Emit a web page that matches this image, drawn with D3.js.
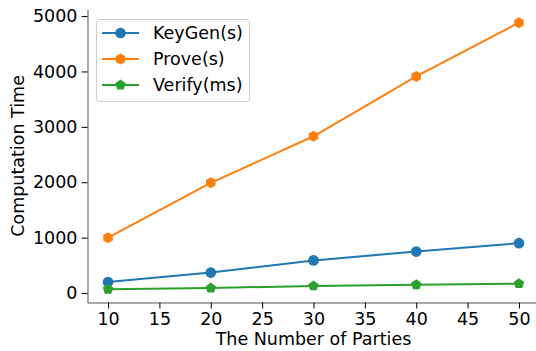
<!DOCTYPE html>
<html><head><meta charset="utf-8">
<script src="https://cdn.jsdelivr.net/npm/d3@7"></script>
<style>body{margin:0;background:#fff}svg{display:block}text{font-family:"DejaVu Sans",sans-serif;fill:#000}</style>
</head><body>
<svg id="c" width="536" height="351"></svg>
<script>
const parties = [10, 20, 30, 40, 50];
const keygen = [200, 370, 590, 750, 900];
const prove = [1000, 1990, 2830, 3910, 4880];
const verify = [70, 90, 130, 150, 170];
const xTicks = [10, 15, 20, 25, 30, 35, 40, 45, 50];
const yTicks = [0, 1000, 2000, 3000, 4000, 5000];
const seriesNames = ["KeyGen(s)", "Prove(s)", "Verify(ms)"];
const colors = ["#1f77b4", "#ff7f0e", "#2ca02c"];
const symbols = [d3.symbolCircle, "hex", "pent"];

const svg = d3.select("#c");
const L = 87.5, R = 539.5, T = 9.4, B = 302.5;
const x = d3.scaleLinear().domain([8, 52]).range([L, R]);
const y = d3.scaleLinear().domain([-170, 5120]).range([B, T]);

const xa = svg.append("g").attr("transform", `translate(0,${B})`)
  .call(d3.axisBottom(x).tickValues(xTicks).tickSize(6).tickPadding(4).tickSizeOuter(0));
const ya = svg.append("g").attr("transform", `translate(${L},0)`)
  .call(d3.axisLeft(y).tickValues(yTicks).tickFormat(d3.format("d")).tickSize(6).tickPadding(4).tickSizeOuter(0));
[xa, ya].forEach(a => {
  a.selectAll("text").style("font-size", "17.5px").style("font-family", "DejaVu Sans");
  a.selectAll("line,path").attr("stroke", "#000").attr("stroke-width", 1);
  a.select(".domain").attr("stroke", "#555");
});

function poly(n, r, rot) {
  const pts = [];
  for (let i = 0; i < n; i++) {
    const a = rot + i * 2 * Math.PI / n;
    pts.push([r * Math.cos(a), r * Math.sin(a)]);
  }
  return "M" + pts.map(p => p.join(",")).join("L") + "Z";
}
function markerPath(s) {
  if (s === "hex") return poly(6, 5.5, -Math.PI / 2);
  if (s === "pent") return poly(5, 5.5, -Math.PI / 2);
  return d3.symbol().type(s).size(90)();
}

const data = [keygen, prove, verify];
const line = d3.line().x((d, i) => x(parties[i])).y(d => y(d));
data.forEach((vals, k) => {
  svg.append("path").datum(vals).attr("d", line).attr("fill", "none")
    .attr("stroke", colors[k]).attr("stroke-width", 2);
  svg.selectAll(null).data(vals).enter().append("path")
    .attr("d", markerPath(symbols[k]))
    .attr("transform", (d, i) => `translate(${x(parties[i])},${y(d)})`)
    .attr("fill", colors[k]);
});

// legend
const lg = svg.append("g");
lg.append("rect").attr("x", 96.5).attr("y", 19.5).attr("width", 153).attr("height", 82).attr("rx", 3)
  .attr("fill", "#fff").attr("fill-opacity", 0.8).attr("stroke", "#ccc");
seriesNames.forEach((n, k) => {
  const yy = 33 + k * 26;
  lg.append("line").attr("x1", 102).attr("x2", 139).attr("y1", yy).attr("y2", yy)
    .attr("stroke", colors[k]).attr("stroke-width", 2);
  lg.append("path").attr("d", markerPath(symbols[k])).attr("transform", `translate(120.5,${yy})`).attr("fill", colors[k]);
  lg.append("text").attr("x", 153).attr("y", yy).attr("dy", "0.35em").style("font-size", "17.5px").text(n);
});

svg.append("text").attr("x", 313.5).attr("y", 345).attr("text-anchor", "middle")
  .style("font-size", "17.5px").text("The Number of Parties");
svg.append("text").attr("transform", `translate(24,${(T + B) / 2}) rotate(-90)`).attr("text-anchor", "middle")
  .style("font-size", "17.5px").text("Computation Time");
</script>
</body></html>
